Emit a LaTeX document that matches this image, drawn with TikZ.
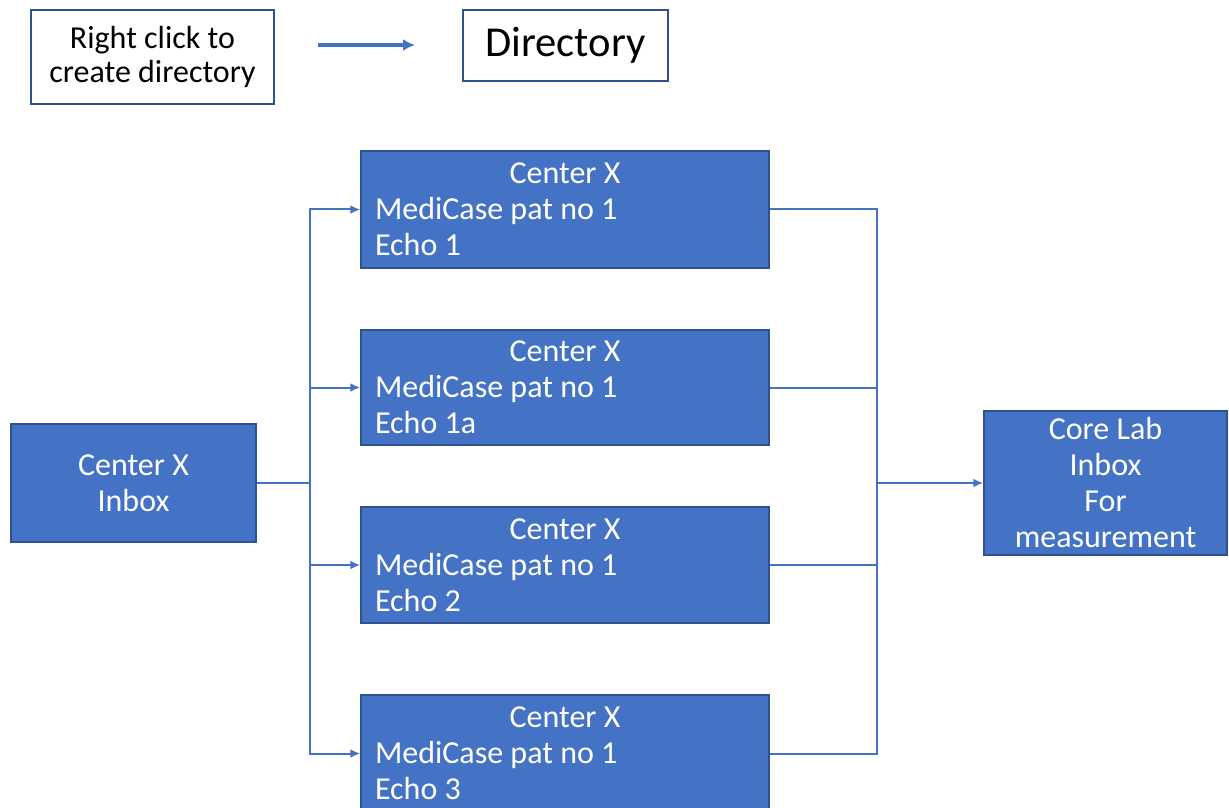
\documentclass[tikz,border=0pt]{standalone}
\usepackage{fontspec}
\setmainfont{Carlito}
\usepackage{tikz}
\usetikzlibrary{arrows.meta}

\definecolor{officeblue}{HTML}{4472C4}
\definecolor{edgeblue}{HTML}{2F528F}

\begin{document}
\begin{tikzpicture}[x=0.5pt,y=-0.5pt,
	hintbox/.style={draw=edgeblue,line width=0.75pt,fill=white,align=center,
		font=\fontsize{16}{17}\selectfont,inner sep=0pt},
	bluebox/.style={draw=edgeblue,line width=0.75pt,fill=officeblue,text=white,
		font=\fontsize{16}{18}\selectfont,inner sep=0pt},
	echobox/.style={bluebox,text width=190pt,inner xsep=7pt,align=flush left,
		minimum width=204pt},
	conn/.style={draw=officeblue,line width=1pt},
	tip/.style={-{Latex[length=5pt,width=4.5pt]}}]
	\useasboundingbox (0,0) rectangle (1229,807);

	\node[hintbox,minimum width=121.5pt,minimum height=47pt] (hint) at (152.5,57)
		{Right click to\\create directory};
	\node[hintbox,minimum width=102.5pt,minimum height=35.5pt,
		font=\fontsize{21.3}{24}\selectfont] (dir) at (565.5,45.5) {Directory};
	\coordinate (hintfrom) at (318,45);
	\coordinate (hintto) at (415,45);
	\draw[conn,line width=2pt,-{Latex[length=6pt,width=6pt]}] (hintfrom) -- (hintto);

	\node[bluebox,align=center,minimum width=122.5pt,minimum height=59pt] (inbox)
		at (133.5,483) {Center X\\Inbox};
	\node[echobox,minimum height=58.5pt] (echo1) at (565,209.5)
		{\makebox[\linewidth]{Center X}\\MediCase pat no 1\\Echo 1};
	\node[echobox,minimum height=57.5pt] (echo1a) at (565,387.5)
		{\makebox[\linewidth]{Center X}\\MediCase pat no 1\\Echo 1a};
	\node[echobox,minimum height=58pt] (echo2) at (565,565)
		{\makebox[\linewidth]{Center X}\\MediCase pat no 1\\Echo 2};
	\node[echobox,minimum height=58.5pt] (echo3) at (565,753.5)
		{\makebox[\linewidth]{Center X}\\MediCase pat no 1\\Echo 3};
	\node[bluebox,align=center,minimum width=121.5pt,minimum height=72pt] (corelab)
		at (1105.5,483) {Core Lab\\Inbox\\For\\measurement};

	\draw[conn] (inbox.east) -- (310,483) coordinate (split);
	\draw[conn,tip] (split) |- (echo1.west);
	\draw[conn,tip] (split) |- (echo1a.west);
	\draw[conn,tip] (split) |- (echo2.west);
	\draw[conn,tip] (split) |- (echo3.west);

	\coordinate (join) at (877,483);
	\draw[conn] (echo1.east) -| (join);
	\draw[conn] (echo1a.east) -| (join);
	\draw[conn] (echo2.east) -| (join);
	\draw[conn] (echo3.east) -| (join);
	\draw[conn,tip] (join) -- (corelab.west);
\end{tikzpicture}
\end{document}
